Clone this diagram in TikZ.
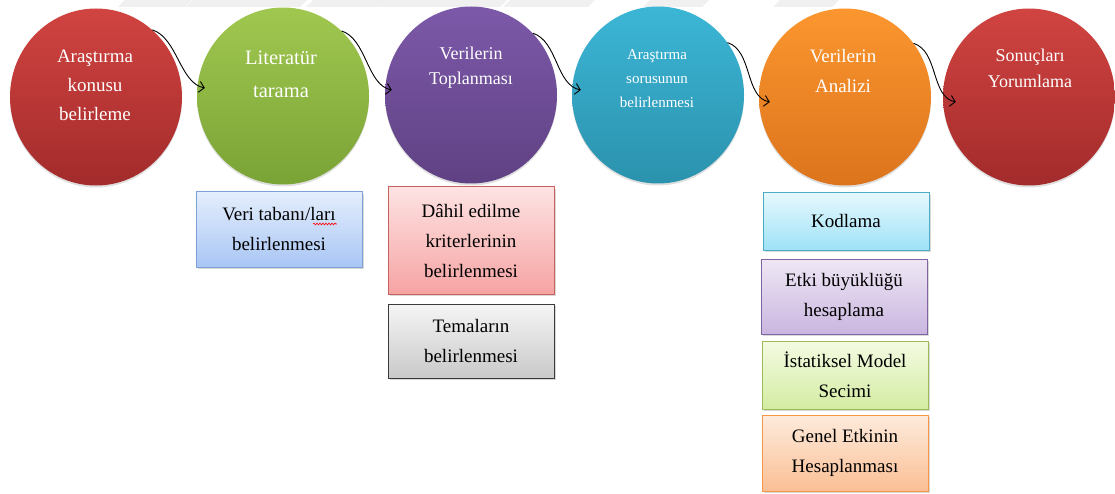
\documentclass[tikz,border=0pt]{standalone}
\usepackage{fontspec}
\setmainfont{Liberation Serif}
\usetikzlibrary{shapes.geometric,shadows,arrows.meta,calc,decorations.pathmorphing}

% bubble colours (top / bottom of the gradient)
\definecolor{redT}{HTML}{D04441}\definecolor{redB}{HTML}{A32B2B}
\definecolor{grnT}{HTML}{A0C850}\definecolor{grnB}{HTML}{7AA336}
\definecolor{purT}{HTML}{7D59A9}\definecolor{purB}{HTML}{5F4183}
\definecolor{cyaT}{HTML}{3CB6D6}\definecolor{cyaB}{HTML}{2B92AD}
\definecolor{oraT}{HTML}{FB962F}\definecolor{oraB}{HTML}{DC741C}
% card colours
\definecolor{bluT}{HTML}{E4EEFC}\definecolor{bluB}{HTML}{A9C6F5}\definecolor{bluL}{HTML}{7EA1D5}
\definecolor{pnkT}{HTML}{FDE3E3}\definecolor{pnkB}{HTML}{F6A3A3}\definecolor{pnkL}{HTML}{C8605D}
\definecolor{gryT}{HTML}{F5F5F5}\definecolor{gryB}{HTML}{C9C9C9}\definecolor{gryL}{HTML}{3A3A3A}
\definecolor{skyT}{HTML}{E6F8FE}\definecolor{skyB}{HTML}{9FE2F7}\definecolor{skyL}{HTML}{4BACC6}
\definecolor{lavT}{HTML}{EFE7F5}\definecolor{lavB}{HTML}{C9B6DF}\definecolor{lavL}{HTML}{8064A2}
\definecolor{limT}{HTML}{F4FBE2}\definecolor{limB}{HTML}{D4ECA3}\definecolor{limL}{HTML}{9BBB59}
\definecolor{pchT}{HTML}{FDEBDC}\definecolor{pchB}{HTML}{FBBF95}\definecolor{pchL}{HTML}{F79646}
\definecolor{band}{HTML}{F0F0F0}

\begin{document}
\begin{tikzpicture}[x=1pt,y=-1pt,
  bubble/.style={ellipse, minimum width=172pt, minimum height=177pt, inner sep=0pt,
    drop shadow={opacity=0.25, shadow xshift=0pt, shadow yshift=-2pt}},
  btext/.style={text=white, align=center, anchor=base, inner sep=0pt},
  card/.style={rectangle, minimum width=166pt, inner sep=2pt, align=center, line width=1pt,
    font=\fontsize{19}{30}\selectfont,
    drop shadow={opacity=0.3, shadow xshift=1.5pt, shadow yshift=-2pt}},
  flow/.style={-{Straight Barb[length=5pt,width=11pt]}, line width=0.9pt, black},
  ]
\useasboundingbox (0,0) rectangle (1115,494);

% faint striped band along the top edge
\foreach \a/\b in {125/185,193/300,313/383,390/500,510/588,650/702,780/832}
  \fill[band] (\a,0) -- (\b+7,0) -- (\b,7) -- (\a-7,7) -- cycle;

% process bubbles
\node[bubble, top color=redT, bottom color=redB] (c1) at (96,97) {};
\node[bubble, top color=grnT, bottom color=grnB] (c2) at (283,96) {};
\node[bubble, top color=purT, bottom color=purB] (c3) at (471,95) {};
\node[bubble, top color=cyaT, bottom color=cyaB] (c4) at (658,95) {};
\node[bubble, top color=oraT, bottom color=oraB] (c5) at (845,97) {};
\node[bubble, top color=redT, bottom color=redB] (c6) at (1029,97) {};

% bubble captions (placed by the baseline of their last line)
\node[btext, font=\fontsize{19}{29}\selectfont] (l1) at (95,121) {Araştırma\\konusu\\belirleme};
\node[btext, font=\fontsize{20.5}{33}\selectfont] (l2) at (281,98) {Literatür\\tarama};
\node[btext, font=\fontsize{18}{25}\selectfont] (l3) at (471,85) {Verilerin\\Toplanması};
\node[btext, font=\fontsize{15}{24}\selectfont] (l4) at (657,108) {Araştırma\\sorusunun\\belirlenmesi};
\node[btext, font=\fontsize{19}{30}\selectfont] (l5) at (843,93) {Verilerin\\Analizi};
\node[btext, font=\fontsize{18}{26}\selectfont] (l6) at (1030,88) {Sonuçları\\Yorumlama};

% curved connectors between bubbles
\draw[flow] (c1.50) .. controls +(25,8) and +(-25,-5) .. ($(c2.west)+(8,-8)$);
\draw[flow] (c2.48) .. controls +(25,8) and +(-25,-5) .. ($(c3.west)+(7,-5)$);
\draw[flow] (c3.45) .. controls +(25,8) and +(-25,-5) .. ($(c4.west)+(9,-5)$);
\draw[flow] (c4.37) .. controls +(25,8) and +(-25,-5) .. ($(c5.west)+(11,5)$);
\draw[flow] (c5.38) .. controls +(25,8) and +(-25,-5) .. ($(c6.west)+(13,5)$);

% sub-step cards
\node[card, minimum height=75pt, top color=bluT, bottom color=bluB, draw=bluL] (v1) at (279,229.5)
  {Veri tabanı/ları\\belirlenmesi};
\draw[red, line width=0.6pt, decorate, decoration={snake, amplitude=0.9pt, segment length=3pt}]
  (313,224) -- (337,224);
\node[card, minimum height=107pt, top color=pnkT, bottom color=pnkB, draw=pnkL] (d1) at (471,240.5)
  {Dâhil edilme\\kriterlerinin\\belirlenmesi};
\node[card, minimum height=74pt, top color=gryT, bottom color=gryB, draw=gryL] (t1) at (471,341)
  {Temaların\\belirlenmesi};
\node[card, minimum height=57pt, top color=skyT, bottom color=skyB, draw=skyL] (k1) at (846,221.5)
  {Kodlama};
\node[card, minimum height=75pt, top color=lavT, bottom color=lavB, draw=lavL] (e1) at (844,296.5)
  {Etki büyüklüğü\\hesaplama};
\node[card, minimum height=68pt, top color=limT, bottom color=limB, draw=limL] (i1) at (845,375)
  {İstatiksel Model\\Secimi};
\node[card, minimum height=76pt, top color=pchT, bottom color=pchB, draw=pchL] (g1) at (845,453)
  {Genel Etkinin\\Hesaplanması};
\end{tikzpicture}
\end{document}
